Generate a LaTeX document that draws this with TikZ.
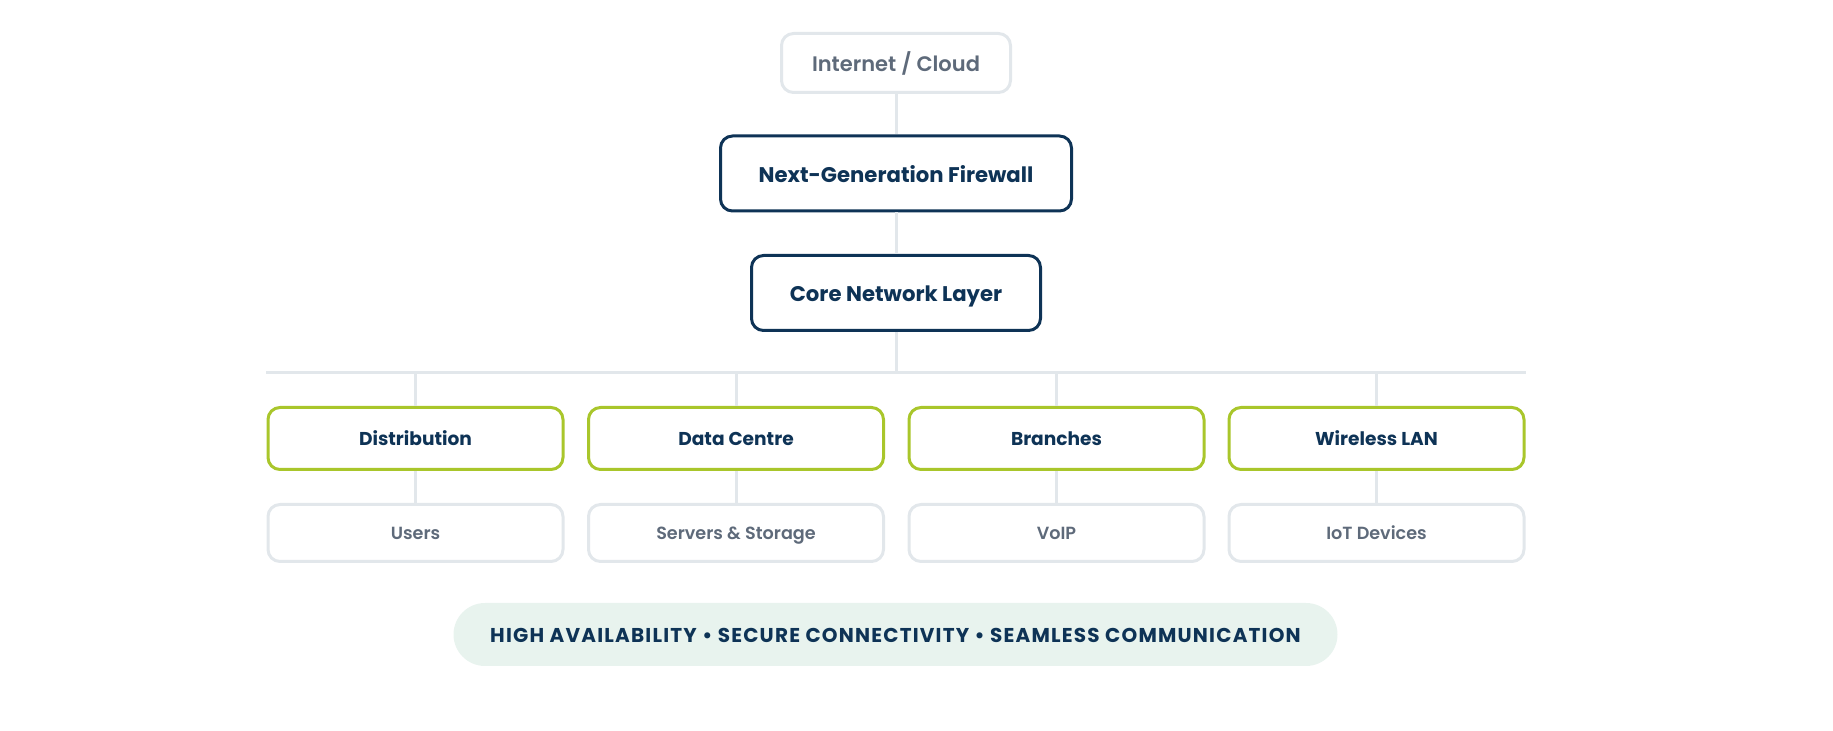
\documentclass[tikz,border=0pt]{standalone}
\usepackage{fontspec}
\setmainfont{Poppins}[BoldFont=Poppins Bold]
\newfontfamily\popmed{Poppins Medium}
\newfontfamily\popsemi{Poppins SemiBold}
\newfontfamily\pillfont{Poppins Bold}[LetterSpace=6]
\definecolor{navy}{HTML}{0E3356}
\definecolor{lime}{HTML}{A9C62B}
\definecolor{lightgray}{HTML}{E2E7EB}
\definecolor{graytext}{HTML}{5E6A7A}
\definecolor{pillfill}{HTML}{E8F3EE}
\tikzset{
  px/.style={x=0.5pt,y=-0.5pt},
  txt/.style={text height=0.7em,text depth=0pt},
  txtlow/.style={text height=0.88em,text depth=0pt},
  topbox/.style={txtlow,draw=lightgray,line width=1.5pt,rounded corners=6pt,fill=white,
    minimum width=114.5pt,minimum height=29.5pt,inner sep=0pt,
    font=\popsemi\fontsize{10.5}{12}\selectfont,text=graytext},
  mainbox/.style={txtlow,draw=navy,line width=1.5pt,rounded corners=6pt,fill=white,
    minimum height=37.5pt,inner sep=0pt,
    font=\bfseries\fontsize{10.6}{12}\selectfont,text=navy},
  greenbox/.style={txt,draw=lime,line width=1.5pt,rounded corners=6pt,fill=white,
    minimum width=147.5pt,minimum height=31pt,inner sep=0pt,
    font=\bfseries\fontsize{9.3}{11}\selectfont,text=navy},
  leafbox/.style={txt,draw=lightgray,line width=1.5pt,rounded corners=6pt,fill=white,
    minimum width=147.5pt,minimum height=28.5pt,inner sep=0pt,
    font=\popsemi\fontsize{8.8}{10}\selectfont,text=graytext},
  conn/.style={draw=lightgray,line width=1.5pt},
  pill/.style={text height=0.8em,text depth=0pt,fill=pillfill,rounded corners=15.75pt,minimum width=442pt,
    minimum height=31.5pt,inner sep=0pt,
    font=\pillfont\fontsize{10}{12}\selectfont,text=navy}
}
\begin{document}
\begin{tikzpicture}[px]
\useasboundingbox (0,0) rectangle (1833,731);
% nodes
\node[topbox] (inet) at (896,63) {Internet / Cloud};
\node[mainbox,minimum width=175.5pt] (fw) at (896,173.5) {Next-Generation Firewall};
\node[mainbox,minimum width=144.5pt] (core) at (896,293) {Core Network Layer};
\coordinate (busL) at (266,373);
\coordinate (busR) at (1526,373);
\coordinate (busM) at (896,373);
\node[greenbox] (d1) at (415.5,438.5) {Distribution};
\node[greenbox] (d2) at (736,438.5) {Data Centre};
\node[greenbox] (d3) at (1056.5,438.5) {Branches};
\node[greenbox] (d4) at (1376.5,438.5) {Wireless LAN};
\node[leafbox] (l1) at (415.5,533) {Users};
\node[leafbox] (l2) at (736,533) {Servers \& Storage};
\node[leafbox] (l3) at (1056.5,533) {VoIP};
\node[leafbox] (l4) at (1376.5,533) {IoT Devices};
\node[pill] (tag) at (895.5,634.5) {HIGH AVAILABILITY • SECURE CONNECTIVITY • SEAMLESS COMMUNICATION};
% connectors
\draw[conn] (inet.south) -- (fw.north);
\draw[conn] (fw.south) -- (core.north);
\draw[conn] (core.south) -- (busM);
\draw[conn] (busL) -- (busR);
\foreach \n in {d1,d2,d3,d4}{
  \draw[conn] (\n.north) -- (\n.north |- busM);
}
\draw[conn] (d1.south) -- (l1.north);
\draw[conn] (d2.south) -- (l2.north);
\draw[conn] (d3.south) -- (l3.north);
\draw[conn] (d4.south) -- (l4.north);
\end{tikzpicture}
\end{document}
